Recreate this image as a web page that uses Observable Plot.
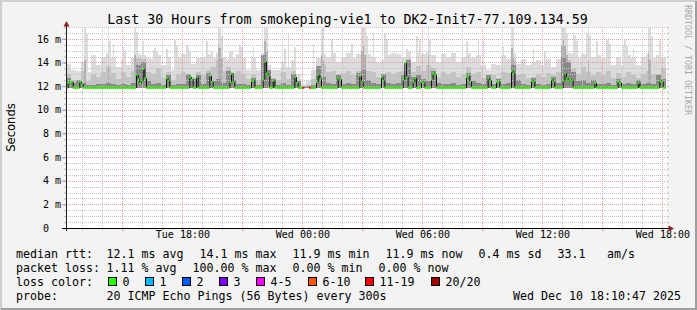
<!DOCTYPE html>
<html><head><meta charset="utf-8">
<script src="https://cdn.jsdelivr.net/npm/d3@7"></script>
<script src="https://cdn.jsdelivr.net/npm/@observablehq/plot@0.6"></script>
<style>
html,body{margin:0;padding:0;background:#f3f3f3;}
#chart{position:relative;width:697px;height:310px;background:#f3f3f3;overflow:hidden;}
#chart svg{position:absolute;left:0;top:0;}
</style></head><body><div id="chart"></div>
<script>
// ---------------- DATA ----------------
const title = "Last 30 Hours from smokeping-vie1 to DK2-Init7-77.109.134.59";
const yAxisLabel = "Seconds";
const sideText = "RRDTOOL / TOBI OETIKER";
const startTime = "2025-12-09T12:10:47Z";
const endTime = "2025-12-10T18:10:47Z";
const sampleMinutes = 5;     // median samples and spikes
const smokeMinutes = 15;     // smoke envelope bins
const minPing = 11.8;        // ms, bottom of the smoke

// median rtt (ms), one value per 5 minutes (null = 100% loss)
const medianMs = [
11.9,12.3,12.4,12.4,11.9,11.9,11.9,11.9,12.4,12.2,11.9,11.9,11.9,11.9,11.9,11.9,11.9,11.9,11.9,11.9,
11.9,11.9,11.9,11.9,11.9,11.9,11.9,11.9,11.9,11.9,11.9,11.9,11.9,11.9,11.9,11.9,11.9,11.9,11.9,11.9,
11.9,11.9,13.0,12.6,12.3,12.5,13.5,12.7,11.9,11.9,11.9,11.9,11.9,11.9,11.9,11.9,11.9,11.9,11.9,11.9,
12.7,12.5,11.9,11.9,11.9,11.9,11.9,11.9,11.9,11.9,11.9,11.9,11.9,11.9,12.8,12.6,11.9,11.9,12.8,11.9,
11.9,11.9,11.9,11.9,11.9,11.9,12.9,12.4,11.9,11.9,11.9,11.9,11.9,11.9,11.9,11.9,11.9,11.9,12.4,13.1,
12.4,11.9,11.9,11.9,11.9,11.9,11.9,11.9,11.9,11.9,11.9,12.5,12.5,11.9,11.9,11.9,11.9,11.9,12.6,14.1,
13.1,12.9,11.9,11.9,12.5,11.9,11.9,11.9,11.9,11.9,11.9,11.9,11.9,11.9,11.9,11.9,11.9,12.8,12.3,11.9,
11.9,11.9,11.9,null,null,null,11.9,11.9,11.9,11.9,12.4,13.0,12.6,11.9,11.9,11.9,11.9,11.9,11.9,11.9,
11.9,11.9,11.9,12.7,12.6,11.9,11.9,11.9,11.9,11.9,11.9,11.9,11.9,11.9,11.9,11.9,12.9,12.4,11.9,11.9,
11.9,11.9,11.9,11.9,11.9,11.9,11.9,11.9,11.9,12.8,12.5,11.9,11.9,11.9,11.9,11.9,11.9,11.9,11.9,11.9,
11.9,11.9,12.6,14.0,12.8,11.9,11.9,11.9,12.4,12.7,11.9,11.9,11.9,12.4,12.3,11.9,11.9,11.9,11.9,12.6,
13.1,13.0,11.9,11.9,11.9,11.9,11.9,11.9,11.9,11.9,11.9,11.9,11.9,11.9,11.9,11.9,11.9,11.9,11.9,11.9,
12.8,12.9,12.4,11.9,11.9,11.9,11.9,11.9,11.9,11.9,11.9,11.9,11.9,12.7,12.5,11.9,11.9,11.9,12.4,12.4,
11.9,11.9,11.9,11.9,11.9,11.9,11.9,13.3,13.1,11.9,11.9,11.9,11.9,11.9,11.9,11.9,11.9,11.9,11.9,12.5,
12.4,11.9,11.9,11.9,11.9,11.9,11.9,11.9,11.9,11.9,11.9,12.6,12.4,11.9,11.9,11.9,11.9,11.9,12.5,13.1,
12.7,12.5,12.6,12.5,11.9,11.9,11.9,11.9,11.9,11.9,11.9,11.9,11.9,11.9,11.9,11.9,11.9,12.3,11.9,11.9,
11.9,11.9,11.9,11.9,11.9,11.9,11.9,11.9,11.9,11.9,11.9,12.4,12.3,11.9,11.9,11.9,11.9,11.9,11.9,11.9,
11.9,11.9,11.9,12.3,11.9,11.9,11.9,11.9,11.9,11.9,11.9,11.9,11.9,11.9,11.9,11.9,12.5,12.4,11.9,11.9
];
// partial packet loss (sample index, lost pings of 20)
const lossIdx = [142, 146];
const lossCount = [12, 12];

// smoke envelope, one value per 15 minutes (ms)
const smokeMax = [
13.9,13.4,13.3,14.0,13.2,14.6,13.8,14.5,14.8,14.4, 13.6,14.3,13.8,14.4,14.7,14.6,14.4,14.3,14.6,13.8,
14.4,13.4,14.5,14.7,14.3,13.9,14.4,14.5,14.7,14.4, 14.8,14.5,14.3,14.4,14.7,14.4,13.4,14.5,13.4,14.8,
13.8,13.4,13.4,14.0,13.6,14.2,13.0,12.2,12.4,13.4, 14.4,14.7,14.5,14.8,14.0,14.5,14.8,14.4,14.7,14.9,
14.7,14.5,14.0,14.2,14.6,14.8,14.7,14.5,14.9,14.0, 14.8,14.7,14.9,14.6,14.0,14.7,14.5,14.8,14.0,14.5,
14.8,14.4,14.6,13.8,13.4,13.9,13.8,14.6,14.3,14.8, 13.9,14.3,13.8,14.0,14.2,13.8,14.3,13.6,14.3,15.0,
14.8,14.7,14.4,14.7,14.7,14.5,14.6,14.4,14.7,13.8, 14.5,13.8,14.6,14.4,13.8,14.5,14.7,14.4,14.6,14.5
];
const smokeMid = [
13.0,12.5,12.4,13.3,12.4,13.0,12.8,13.2,13.6,13.1, 12.6,13.2,12.8,13.3,14.4,14.3,13.2,13.0,13.5,12.7,
13.2,12.5,13.0,13.2,13.0,12.8,13.2,13.0,13.4,13.6, 14.2,13.3,13.6,13.1,13.3,13.0,12.6,13.0,12.5,14.6,
13.3,12.7,12.5,13.2,12.6,13.3,12.3,12.0,12.1,12.6, 13.7,13.9,13.2,13.3,13.0,13.1,13.3,12.9,13.3,14.2,
13.3,13.2,12.8,13.0,13.2,13.0,13.2,13.3,14.3,13.2, 13.7,13.3,13.8,13.5,12.8,13.2,13.0,13.2,12.8,13.0,
13.6,13.0,13.2,12.7,12.8,12.9,12.7,13.2,13.1,14.2, 12.9,13.0,12.7,12.8,13.0,12.8,13.1,12.9,13.2,14.8,
14.2,13.5,13.0,13.6,13.2,12.9,13.2,12.9,13.3,12.7, 13.1,12.8,13.2,12.9,12.7,13.0,13.3,13.0,13.0,13.5
];
const smokeDark = [
12.7,12.3,12.5,12.3,12.1,12.1,12.2,12.2,12.3,12.2, 12.1,12.2,12.1,12.3,13.8,14.0,12.4,12.2,12.3,12.1,
12.9,12.1,12.2,12.2,13.0,12.6,12.9,12.2,13.1,12.4, 12.6,12.3,13.3,12.5,12.2,12.2,12.1,12.7,12.1,14.6,
13.4,12.6,12.1,12.3,12.1,13.0,12.4,11.9,12.0,12.1, 13.7,12.8,12.3,12.2,12.9,12.2,12.3,12.2,13.1,13.4,
12.5,12.3,12.2,13.0,12.3,12.2,12.3,12.9,14.2,12.8, 12.9,12.6,12.4,13.3,12.3,12.2,12.2,12.3,12.1,12.2,
13.1,12.4,12.3,12.2,12.9,12.2,12.6,12.2,12.3,13.8, 12.5,12.2,12.1,12.7,12.2,12.1,12.2,12.8,12.3,14.4,
14.0,13.2,12.4,12.5,12.3,12.5,12.2,12.2,12.3,12.1, 12.6,12.2,12.3,12.2,12.5,12.2,12.3,12.2,12.9,12.6
];
// narrow smoke spikes (5-minute sample index, max ping ms, upper-mid ping ms or null)
const spikeIdx = [11,12,25,26,28,34,35,41,42,46,52,53,54,60,65,66,72,73,74,84,87,91,92,93,98,99,104,105,112,119,120,
  131,133,137,148,153,154,159,171,177,178,179,180,184,191,192,204,210,212,217,218,240,247,250,262,267,268,280,287,
  297,298,299,300,304,305,306,312,313,314,318,324,325,326,334,335,336,340,349,350,351,356];
const spikeTop = [16.9,16.4,16.9,15.8,15.6,15.3,15.0,16.9,16.6,15.8,15.0,15.2,14.9,15.1,15.9,15.4,15.5,15.3,15.0,15.8,14.9,16.9,16.9,16.2,14.9,15.0,15.5,15.3,15.3,16.9,16.9,
  15.1,16.4,15.3,15.5,16.9,16.9,15.9,15.6,16.9,16.9,16.9,16.2,16.5,16.5,16.0,15.1,16.2,16.0,16.9,15.9,15.8,15.9,15.9,15.4,16.9,16.9,15.1,15.0,
  16.9,16.9,16.9,16.4,16.5,16.3,15.8,16.5,16.8,16.3,15.8,15.9,16.1,15.6,15.5,15.9,15.4,15.1,16.9,16.9,16.2,15.9];
const spikeMid = [14.2,null,13.8,null,null,null,null,14.6,14.0,null,null,null,null,null,null,null,null,null,null,null,null,15.6,15.2,14.4,null,null,null,null,null,15.8,15.0,
  null,null,null,null,14.6,14.2,null,null,15.0,15.4,14.6,null,null,null,null,null,null,null,14.6,null,null,null,null,null,15.2,14.4,null,null,
  15.4,15.9,15.4,14.6,null,null,null,null,14.2,null,null,null,null,null,null,null,null,null,14.8,14.2,null,null];

const yTicks = [0, 2, 4, 6, 8, 10, 12, 14, 16];
const yTickLabels = ["0\u00a0\u00a0", "2 m", "4 m", "6 m", "8 m", "10 m", "12 m", "14 m", "16 m"];
const xTickTimes = ["2025-12-09T18:00:00Z", "2025-12-10T00:00:00Z", "2025-12-10T06:00:00Z", "2025-12-10T12:00:00Z", "2025-12-10T18:00:00Z"];
const xTickLabels = ["Tue 18:00", "Wed 00:00", "Wed 06:00", "Wed 12:00", "Wed 18:00"];

const lossLegend = ["0", "1", "2", "3", "4-5", "6-10", "11-19", "20/20"];
const lossUpper = [0, 1, 2, 3, 5, 10, 19, 20];
const lossColors = ["#26ff00", "#00b8ff", "#0059ff", "#7e00ff", "#ff00ff", "#ff5500", "#ff0000", "#a10000"];

const rttStats = ["median rtt:", "12.1 ms avg", "14.1 ms max", "11.9 ms min", "11.9 ms now", "0.4 ms sd", "33.1", "am/s"];
const lossStats = ["packet loss:", "1.11 % avg", "100.00 % max", "0.00 % min", "0.00 % now"];
const lossLabel = "loss color:";
const probeLabel = "probe:";
const probeText = "20 ICMP Echo Pings (56 Bytes) every 300s";
const stampText = "Wed Dec 10 18:10:47 2025";

// ---------------- BUILD ----------------
const MIN = 60000;
const t0 = new Date(startTime), tEnd = new Date(endTime);
const at = (i, step) => new Date(+t0 + i * step * MIN);
const med = medianMs.map((v, j) => {
  const k = lossIdx.indexOf(j);
  const loss = k >= 0 ? lossCount[k] : 0;
  const ci = lossUpper.findIndex(u => loss <= u);
  return {t0: at(j, sampleMinutes), t1: at(j + 1, sampleMinutes), v, color: lossColors[ci]};
});
const smoke = smokeMax.map((hi, b) => ({t0: at(b, smokeMinutes), t1: at(b + 1, smokeMinutes), hi, mid: smokeMid[b], dk: smokeDark[b]}));
const spikes = spikeIdx.map((j, i) => ({t0: at(j, sampleMinutes), t1: at(j + 1, sampleMinutes), hi: spikeTop[i], mid: spikeMid[i]}));
const yMinorAll = d3.range(0.5, 17.01, 0.5);
const yMinor = yMinorAll.filter(v => v % 2 !== 0);
const yMajor = yTicks.filter(v => v > 0);
const hours = d3.utcHour.range(d3.utcHour.ceil(t0), new Date(+tEnd + 1));
const hoursMinor = hours.filter(h => h.getUTCHours() % 3 !== 0);
const hoursMajor = hours.filter(h => h.getUTCHours() % 3 === 0);
const yLabelData = yTicks.map((v, i) => ({v, s: yTickLabels[i]}));
const xLabelData = xTickTimes.map((t, i) => ({t: new Date(t), s: xTickLabels[i]}));

const gridC = "#c4c4c4", mgridC = "#eb9e9e";
const lightC = "#dcdcdc", midC = "#c3c3c3", darkC = "#8a8a8a";
const mono = "'DejaVu Sans Mono', monospace";
const lo = () => minPing;

const plot = Plot.plot({
  width: 697, height: 310,
  marginLeft: 66, marginRight: 31, marginTop: 27, marginBottom: 82,
  x: {type: "utc", domain: [t0, tEnd], axis: null},
  y: {domain: [0, 17], axis: null},
  color: {type: "identity"},
  style: {background: "transparent", fontFamily: mono, fontSize: "10px", color: "#000", overflow: "visible"},
  marks: [
    Plot.frame({fill: "#ffffff", stroke: null}),
    Plot.rect(smoke, {x1: "t0", x2: "t1", y1: lo, y2: "hi", fill: lightC, shapeRendering: "crispEdges"}),
    Plot.rect(spikes, {x1: "t0", x2: "t1", y1: lo, y2: "hi", fill: lightC, shapeRendering: "crispEdges"}),
    Plot.rect(smoke, {x1: "t0", x2: "t1", y1: lo, y2: "mid", fill: midC, shapeRendering: "crispEdges"}),
    Plot.rect(spikes.filter(d => d.mid != null), {x1: "t0", x2: "t1", y1: lo, y2: "mid", fill: "#b0b0b0", shapeRendering: "crispEdges"}),
    Plot.rect(smoke, {x1: "t0", x2: "t1", y1: lo, y2: "dk", fill: darkC, shapeRendering: "crispEdges"}),
    Plot.ruleY(yMinor, {stroke: gridC, strokeDasharray: "1,1", shapeRendering: "crispEdges"}),
    Plot.ruleX(hoursMinor, {stroke: gridC, strokeDasharray: "1,1", shapeRendering: "crispEdges"}),
    Plot.ruleY(yMajor, {stroke: mgridC, strokeDasharray: "1,1", shapeRendering: "crispEdges"}),
    Plot.ruleX(hoursMajor, {stroke: mgridC, strokeDasharray: "1,1", shapeRendering: "crispEdges"}),
    Plot.line(med, {x: "t0", y: "v", curve: "step-after", stroke: "#111111", strokeWidth: 1}),
    Plot.ruleY(med, {y: "v", x1: "t0", x2: "t1", stroke: "color", strokeWidth: 2}),
    Plot.axisY(yMinorAll, {anchor: "left", tickSize: 2, tickFormat: () => "", stroke: "#b8b8b8", label: null}),
    Plot.axisY(yMinorAll, {anchor: "right", tickSize: 2, tickFormat: () => "", stroke: "#b8b8b8", label: null}),
    Plot.axisY(yMajor, {anchor: "left", tickSize: 4, tickFormat: () => "", stroke: "#e08080", label: null}),
    Plot.axisX(hoursMinor, {anchor: "bottom", tickSize: 2, tickFormat: () => "", stroke: "#b8b8b8", label: null}),
    Plot.axisX(hoursMajor, {anchor: "bottom", tickSize: 3, tickFormat: () => "", stroke: "#e08080", label: null}),
    Plot.ruleY([0], {x1: new Date(+t0 - 12 * MIN), x2: new Date(+tEnd + 9 * MIN), stroke: "#000", strokeWidth: 1}),
    Plot.ruleX([t0], {y1: -0.25, y2: 17.15, stroke: "#222", strokeWidth: 1}),
    Plot.text(yLabelData, {y: "v", text: "s", frameAnchor: "left", textAnchor: "end", dx: -5.5, fontSize: 10, fill: "#000"}),
    Plot.text(xLabelData, {x: "t", text: "s", frameAnchor: "bottom", dy: 9.7, fontSize: 10, fill: "#000"})
  ]
});

const root = document.getElementById("chart");
root.appendChild(plot);

// ---------------- OVERLAY (title, legend, frame) ----------------
const ov = d3.create("svg").attr("width", 697).attr("height", 310).style("pointer-events", "none");
ov.append("path").attr("d", "M1,310 V1 H697").attr("fill", "none").attr("stroke", "#cfcfcf").attr("stroke-width", 2);
ov.append("path").attr("d", "M1,309 H696 V1").attr("fill", "none").attr("stroke", "#9e9e9e").attr("stroke-width", 2);
ov.append("path").attr("d", "M66.5,21 L63.5,26.5 L69.5,26.5 Z").attr("fill", "#8f1d1d");
ov.append("path").attr("d", "M674,228.5 L668.5,225.5 L668.5,231.5 Z").attr("fill", "#8f1d1d");

const txt = (x, y, s, o = {}) => ov.append("text").attr("x", x).attr("y", y)
  .attr("font-family", o.family || mono).attr("font-size", o.size || 11.63)
  .attr("fill", o.fill || "#000").attr("text-anchor", o.anchor || "start")
  .style("white-space", "pre").text(s);

txt(347.5, 24, title, {size: 13.3, anchor: "middle"});

ov.append("text").attr("transform", "translate(11,127.5) rotate(-90)")
  .attr("font-family", "'DejaVu Sans', sans-serif").attr("font-size", 11.6)
  .attr("text-anchor", "middle").attr("dominant-baseline", "central").attr("fill", "#000").text(yAxisLabel);

ov.append("text").attr("transform", "translate(687.7,5) rotate(90)")
  .attr("font-family", mono).attr("font-size", 8.3)
  .attr("dominant-baseline", "central").attr("fill", "#a8a8a8").text(sideText);

const base = [257.5, 271.7, 285.9, 300.1];
const rttX = [16, 106.5, 199.5, 292.5, 385.5, 478.5, 557.5, 607];
rttStats.forEach((s, i) => txt(rttX[i], base[0], s));
const lossX = [16, 106.5, 192.5, 292.5, 378.5];
lossStats.forEach((s, i) => txt(lossX[i], base[1], s));
txt(16, base[2], lossLabel);
const boxX = [108, 145, 182, 219, 256, 308, 365, 431];
lossLegend.forEach((s, i) => {
  ov.append("rect").attr("x", boxX[i] + 0.5).attr("y", 277.5).attr("width", 8).attr("height", 8)
    .attr("fill", lossColors[i]).attr("stroke", "#000").attr("stroke-width", 1);
  txt(boxX[i] + 14.5, base[2], s);
});
txt(16, base[3], probeLabel);
txt(106.5, base[3], probeText);
txt(681, base[3], stampText, {anchor: "end"});

root.appendChild(ov.node());
</script></body></html>
